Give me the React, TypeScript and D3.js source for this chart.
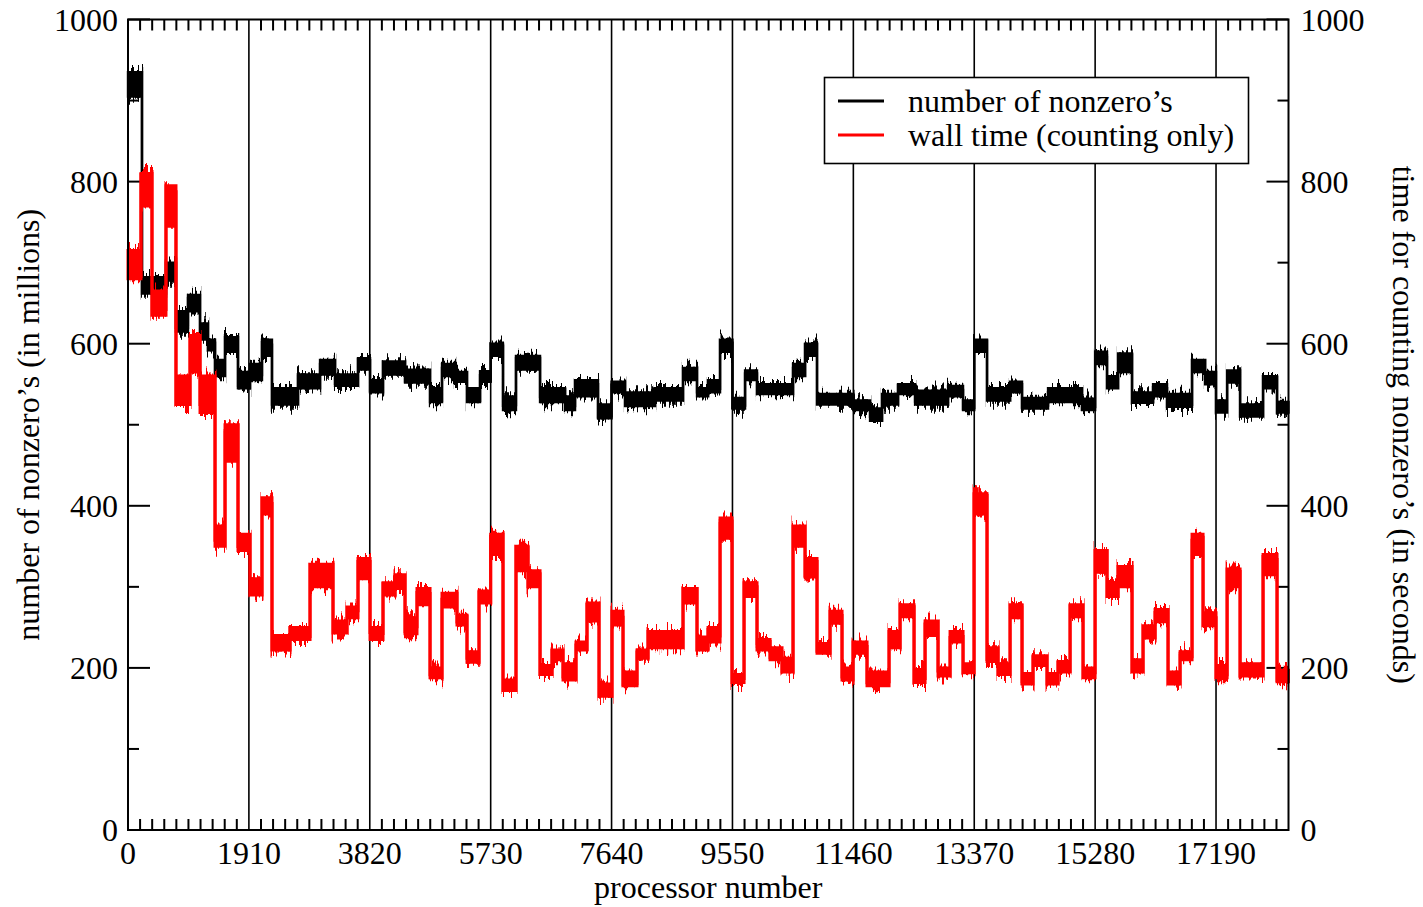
import React, { useEffect, useRef } from 'react';
import * as d3 from 'd3';

// step levels: [first processor, low, high]
const nnzSteps: [number, number, number][] = [
  [0, 905, 935], [221, 662, 682], [600, 678, 700], [758, 615, 640], [948, 640, 660],
  [1138, 605, 625], [1264, 592, 605], [1375, 560, 580], [1533, 590, 608], [1738, 545, 565],
  [1928, 555, 575], [2117, 585, 605], [2275, 525, 545], [2686, 545, 562], [3034, 562, 580],
  [3271, 548, 562], [3634, 568, 582], [3824, 540, 555], [4029, 562, 578], [4377, 552, 568],
  [4772, 528, 545], [4961, 560, 575], [5167, 553, 565], [5356, 528, 545], [5562, 553, 566],
  [5730, 585, 600], [5925, 518, 535], [6130, 568, 585], [6510, 528, 545], [6905, 518, 535],
  [7063, 535, 555], [7426, 508, 525], [7640, 540, 553], [7853, 523, 540], [8327, 530, 545],
  [8769, 555, 570], [8990, 535, 545], [9164, 540, 555], [9354, 590, 605], [9550, 520, 533],
  [9749, 555, 567], [9938, 538, 550], [10507, 560, 575], [10697, 585, 600], [10886, 525, 538],
  [11460, 518, 530], [11724, 505, 520], [11913, 525, 538], [12166, 538, 550], [12435, 525, 542],
  [12956, 535, 548], [13193, 518, 530], [13370, 590, 605], [13572, 530, 545], [13936, 540, 553],
  [14125, 520, 533], [14536, 528, 545], [15073, 518, 532], [15280, 575, 590], [15468, 545, 560],
  [15642, 565, 588], [15863, 527, 540], [16195, 535, 550], [16416, 522, 538], [16811, 565, 580],
  [17017, 550, 565], [17190, 515, 530], [17365, 552, 567], [17570, 510, 525], [17933, 545, 560],
  [18154, 515, 528],
];

const timeSteps: [number, number, number][] = [
  [0, 680, 715], [205, 770, 810], [379, 635, 665], [600, 745, 795], [758, 525, 560],
  [980, 565, 610], [1138, 515, 560], [1375, 350, 375], [1533, 455, 500], [1738, 345, 365],
  [1928, 290, 310], [2117, 390, 410], [2275, 222, 240], [2560, 235, 250], [2876, 300, 328],
  [3239, 243, 258], [3460, 262, 275], [3634, 310, 335], [3824, 235, 250], [4029, 290, 305],
  [4219, 298, 315], [4377, 242, 262], [4566, 278, 298], [4772, 188, 200], [4961, 275, 292],
  [5198, 253, 265], [5356, 207, 220], [5546, 280, 295], [5730, 340, 365], [5925, 172, 185],
  [6130, 320, 350], [6320, 300, 320], [6510, 192, 203], [6699, 210, 222], [6873, 185, 205],
  [7078, 222, 232], [7252, 258, 280], [7442, 165, 180], [7647, 253, 270], [7821, 178, 195],
  [8042, 212, 222], [8216, 225, 245], [8769, 280, 298], [8990, 222, 238], [9164, 232, 250],
  [9354, 360, 385], [9543, 182, 192], [9733, 288, 305], [9938, 222, 235], [10144, 210, 225],
  [10333, 195, 212], [10507, 350, 375], [10697, 312, 335], [10886, 218, 230], [11092, 255, 270],
  [11281, 185, 200], [11455, 218, 232], [11676, 178, 195], [12024, 225, 245], [12198, 263, 278],
  [12419, 182, 198], [12593, 240, 258], [12798, 190, 200], [12988, 232, 245], [13193, 194, 205],
  [13367, 390, 415], [13572, 208, 225], [13746, 192, 205], [13936, 262, 278], [14125, 180, 193],
  [14299, 203, 215], [14520, 180, 193], [14694, 195, 208], [14884, 263, 278], [15089, 188, 200],
  [15279, 318, 345], [15468, 288, 305], [15642, 300, 325], [15863, 195, 210], [16037, 237, 252],
  [16227, 257, 272], [16432, 180, 195], [16622, 210, 220], [16811, 340, 365], [16985, 252, 268],
  [17190, 188, 203], [17365, 300, 322], [17570, 190, 205], [17933, 315, 340], [18154, 183, 197],
];

const xTicks = [0, 1910, 3820, 5730, 7640, 9550, 11460, 13370, 15280, 17190];
const yTicks = [0, 200, 400, 600, 800, 1000];
const xMax = 18335;

const legendItems = [
  { label: 'number of nonzero’s', color: '#000000' },
  { label: 'wall time (counting only)', color: '#ff0000' },
];

const FONT = '"Liberation Serif", "Times New Roman", serif';

export default function App() {
  const ref = useRef<SVGSVGElement>(null);

  useEffect(() => {
    const svg = d3.select(ref.current);
    svg.selectAll('*').remove();

    const margin = { top: 19.5, right: 134.5, bottom: 77, left: 128 };
    const W = 1423, H = 907;
    const x = d3.scaleLinear().domain([0, xMax]).range([margin.left, W - margin.right]);
    const y = d3.scaleLinear().domain([0, 1000]).range([H - margin.bottom, margin.top]);
    const [x0, x1] = x.range();
    const [yb, yt] = y.range();

    svg.append('rect').attr('width', W).attr('height', H).attr('fill', '#fff');

    // rough vertical texture for the dense traces (style only)
    const defs = svg.append('defs');
    const f = defs.append('filter')
      .attr('id', 'fuzz')
      .attr('filterUnits', 'userSpaceOnUse')
      .attr('x', x0).attr('y', yt).attr('width', x1 - x0).attr('height', yb - yt);
    f.append('feTurbulence')
      .attr('type', 'fractalNoise')
      .attr('baseFrequency', '0.45 0.04')
      .attr('numOctaves', 2)
      .attr('seed', 7)
      .attr('result', 'noise');
    f.append('feColorMatrix')
      .attr('in', 'noise')
      .attr('type', 'matrix')
      .attr('values', '0 0 0 0 0.5  0 1 0 0 0  0 0 0 0 0  0 0 0 0 1')
      .attr('result', 'map');
    f.append('feDisplacementMap')
      .attr('in', 'SourceGraphic')
      .attr('in2', 'map')
      .attr('scale', 30)
      .attr('xChannelSelector', 'R')
      .attr('yChannelSelector', 'G');

    // vertical grid lines at the labelled processor numbers
    svg.append('g')
      .selectAll('line')
      .data(xTicks.slice(1))
      .enter()
      .append('line')
      .attr('x1', d => x(d)).attr('x2', d => x(d))
      .attr('y1', yt).attr('y2', yb)
      .attr('stroke', '#000').attr('stroke-width', 1.6);

    // minor ticks on top / bottom
    const xMinor = d3.range(0, xMax, 191).filter(d => d % 1910 !== 0);
    const tk = svg.append('g').attr('stroke', '#000').attr('stroke-width', 2);
    xMinor.forEach(d => {
      tk.append('line').attr('x1', x(d)).attr('x2', x(d)).attr('y1', yb).attr('y2', yb - 11);
      tk.append('line').attr('x1', x(d)).attr('x2', x(d)).attr('y1', yt).attr('y2', yt + 11);
    });
    // y ticks on both sides
    d3.range(0, 1001, 100).forEach(d => {
      const len = d % 200 === 0 ? 22 : 11;
      tk.append('line').attr('x1', x0).attr('x2', x0 + len).attr('y1', y(d)).attr('y2', y(d));
      tk.append('line').attr('x1', x1).attr('x2', x1 - len).attr('y1', y(d)).attr('y2', y(d));
    });

    const drawSeries = (steps: [number, number, number][], color: string, sw: number) => {
      const pts = steps.concat([[xMax, steps[steps.length - 1][1], steps[steps.length - 1][2]]]);
      const area = d3.area<[number, number, number]>()
        .x(d => x(d[0]))
        .y0(d => y(d[1]))
        .y1(d => y(d[2]))
        .curve(d3.curveStepAfter);
      const g = svg.append('g');
      g.append('path')
        .attr('d', area(pts))
        .attr('fill', color)
        .attr('stroke', color)
        .attr('stroke-width', sw)
        .attr('filter', 'url(#fuzz)');
      g.append('path')
        .attr('d', area(pts))
        .attr('fill', color)
        .attr('stroke', color)
        .attr('stroke-width', sw);
    };
    drawSeries(nnzSteps, '#000000', 2.4);
    drawSeries(timeSteps, '#ff0000', 3);

    // frame
    svg.append('rect')
      .attr('x', x0).attr('y', yt)
      .attr('width', x1 - x0).attr('height', yb - yt)
      .attr('fill', 'none').attr('stroke', '#000').attr('stroke-width', 2);

    const txt = svg.append('g').attr('font-family', FONT).attr('font-size', 32).attr('fill', '#000');

    xTicks.forEach(d => {
      txt.append('text').attr('x', x(d)).attr('y', 864).attr('text-anchor', 'middle').text(d);
    });
    yTicks.forEach(d => {
      txt.append('text').attr('x', x0 - 10).attr('y', y(d)).attr('dy', '0.35em')
        .attr('text-anchor', 'end').text(d);
      txt.append('text').attr('x', x1 + 12).attr('y', y(d)).attr('dy', '0.35em')
        .attr('text-anchor', 'start').text(d);
    });

    txt.append('text')
      .attr('x', (x0 + x1) / 2).attr('y', 898)
      .attr('text-anchor', 'middle')
      .text('processor number');

    txt.append('text')
      .attr('transform', `translate(28,${(yt + yb) / 2}) rotate(-90)`)
      .attr('dy', '0.35em')
      .attr('text-anchor', 'middle')
      .text('number of nonzero’s (in millions)');

    txt.append('text')
      .attr('transform', `translate(1404,${(yt + yb) / 2}) rotate(90)`)
      .attr('dy', '0.35em')
      .attr('text-anchor', 'middle')
      .text('time for counting nonzero’s (in seconds)');

    // legend
    const lg = svg.append('g');
    lg.append('rect')
      .attr('x', 824.5).attr('y', 77.5).attr('width', 424).attr('height', 86)
      .attr('fill', '#fff').attr('stroke', '#000').attr('stroke-width', 1.6);
    legendItems.forEach((it, i) => {
      const ly = 101 + i * 34;
      lg.append('line')
        .attr('x1', 838).attr('x2', 884).attr('y1', ly).attr('y2', ly)
        .attr('stroke', it.color).attr('stroke-width', 3);
      lg.append('text')
        .attr('x', 908).attr('y', ly).attr('dy', '0.33em')
        .attr('font-family', FONT).attr('font-size', 32)
        .text(it.label);
    });
  }, []);

  return (
    <svg
      ref={ref}
      width={1423}
      height={907}
      style={{ position: 'absolute', left: 0, top: 0, display: 'block' }}
    />
  );
}
